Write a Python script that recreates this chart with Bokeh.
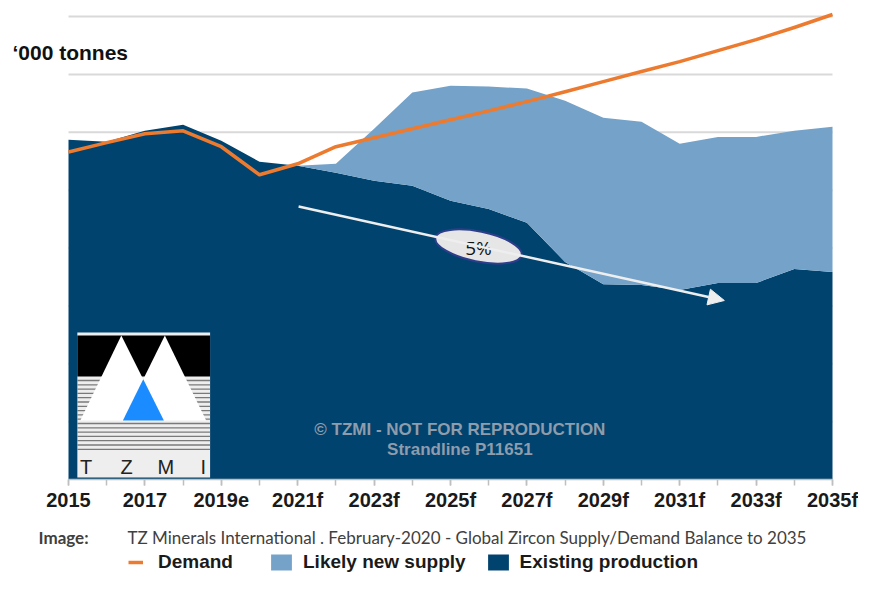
from bokeh.plotting import figure
from bokeh.models import (Range1d, FixedTicker, Label, Legend, LegendItem, Arrow,
                          NormalHead, ColumnDataSource, Grid)
from bokeh.core.properties import value
from bokeh.embed import file_html
from bokeh.resources import INLINE

# ---------------- data ('000 tonnes) ----------------
years = [2015, 2016, 2017, 2018, 2019, 2020, 2021, 2022, 2023, 2024, 2025,
         2026, 2027, 2028, 2029, 2030, 2031, 2032, 2033, 2034, 2035]
existing_production = [1174, 1167, 1205, 1226, 1171, 1098, 1084, 1060, 1032, 1015, 963,
                       935, 887, 752, 675, 672, 655, 679, 679, 727, 717]
likely_new_supply = [0, 0, 0, 0, 0, 0, 0, 31, 180, 322, 398,
                     423, 464, 557, 575, 564, 505, 505, 505, 478, 502]
demand = [1132, 1164, 1195, 1205, 1150, 1053, 1091, 1150, 1181, 1212, 1243,
          1274, 1306, 1340, 1375, 1410, 1444, 1482, 1520, 1562, 1607]
grid_values = [200, 400, 600, 800, 1000, 1200, 1400, 1600]
tick_years = [2015, 2017, 2019, 2021, 2023, 2025, 2027, 2029, 2031, 2033, 2035]
tick_labels = ["2015", "2017", "2019e", "2021f", "2023f", "2025f", "2027f",
               "2029f", "2031f", "2033f", "2035f"]
trend_label = "5%"

DARK = "#00436e"
LIGHT = "#74a2c9"
ORANGE = "#ec7b2f"

W, H = 858, 574
X0_PX, X35_PX = 68, 832          # where 2015 / 2035 sit on the canvas
Y0_PX, Y1600_PX = 479, 16        # where 0 / 1600 sit on the canvas
PX_PER_YEAR = (X35_PX - X0_PX) / 20.0
PX_PER_UNIT = (Y0_PX - Y1600_PX) / 1600.0

x_range = Range1d(2015 - X0_PX / PX_PER_YEAR, 2015 + (W - X0_PX) / PX_PER_YEAR)
y_range = Range1d(-(H - Y0_PX) / PX_PER_UNIT, Y0_PX / PX_PER_UNIT)

p = figure(width=W, height=H, output_backend="svg", toolbar_location=None,
           x_range=x_range, y_range=y_range, y_axis_location=None,
           min_border=0, min_border_left=0, min_border_right=0,
           min_border_top=0, min_border_bottom=0)
p.outline_line_color = None
p.background_fill_color = "white"
p.border_fill_color = "white"
for r in p.renderers + p.center:
    if isinstance(r, Grid):
        r.visible = False

# horizontal gridlines spanning the data years only
p.segment(x0=[years[0]] * len(grid_values), x1=[years[-1]] * len(grid_values),
          y0=grid_values, y1=grid_values, line_color="#d9d9d9", line_width=2)

src = ColumnDataSource(dict(year=years, existing=existing_production,
                            likely=likely_new_supply, demand=demand))
dark_r, light_r = p.varea_stack(stackers=["existing", "likely"], x="year", source=src,
                                color=[DARK, LIGHT])
line_r = p.line("year", "demand", source=src, line_color=ORANGE, line_width=3.5,
                line_join="round")

# x axis, drawn at y = 0 inside the frame
ax = p.xaxis[0]
ax.fixed_location = 0
ax.bounds = (years[0], years[-1])
ax.ticker = FixedTicker(ticks=tick_years, minor_ticks=years)
ax.major_label_overrides = {y: l for y, l in zip(tick_years, tick_labels)}
ax.axis_line_color = "#bfbfbf"
ax.axis_line_width = 1.5
ax.major_tick_line_color = "#bfbfbf"
ax.minor_tick_line_color = "#bfbfbf"
ax.major_tick_line_width = 1.5
ax.minor_tick_line_width = 1.5
ax.major_tick_out = 6
ax.minor_tick_out = 6
ax.major_tick_in = 0
ax.minor_tick_in = 0
ax.major_label_standoff = 3
ax.major_label_text_font = "Liberation Sans"
ax.major_label_text_font_style = "bold"
ax.major_label_text_font_size = "20px"
ax.major_label_text_color = "#1a1a1a"


# helpers: decoration positions measured on the reference (2015 at 68px, 38.85px/year)
def fx(px):
    return 2015 + (px - 68) / 38.85


def fy(py):
    return (Y0_PX - py) / PX_PER_UNIT


# trend arrow and ellipse
p.add_layout(Arrow(x_start=fx(302), y_start=fy(206), x_end=fx(735), y_end=fy(300),
                   line_color="#eeeeee", line_width=2.5,
                   end=NormalHead(size=16, fill_color="#eeeeee", line_color="#eeeeee")))
p.ellipse(x=[fx(485)], y=[fy(246)], width=88, height=30, angle=-0.2,
          width_units="screen", height_units="screen",
          fill_color="#e6e6e6", line_color="#2e3d8c", line_width=2)
p.text(x=[fx(485)], y=[fy(247)], text=[trend_label], text_align="center",
       text_baseline="middle", text_font=value("Open Sans"), text_font_size="19px",
       text_color="#111111")

# watermark
for txt, py in [("© TZMI - NOT FOR REPRODUCTION", 429), ("Strandline P11651", 449)]:
    p.add_layout(Label(x=fx(466), y=fy(py), text=txt, text_align="center",
                       text_baseline="middle", text_font="Liberation Sans",
                       text_font_style="bold", text_font_size="17px",
                       text_color="#8e9cab"))

# TZMI logo
p.quad(left=[fx(77)], right=[fx(212)], bottom=[fy(477)], top=[fy(332)],
       fill_color="#eeeeee", line_color=None)
p.quad(left=[fx(77)], right=[fx(212)], bottom=[fy(376)], top=[fy(335)],
       fill_color="#000000", line_color=None)
stripe_y = [380 + 4.3 * i for i in range(17)]
p.segment(x0=[fx(77)] * len(stripe_y), x1=[fx(212)] * len(stripe_y),
          y0=[fy(v) for v in stripe_y], y1=[fy(v) for v in stripe_y],
          line_color="#7a7a7a", line_width=1.3)
p.patch([fx(121.7), fx(80), fx(165)], [fy(335), fy(420), fy(420)],
        fill_color="white", line_color=None)
p.patch([fx(166), fx(123.3), fx(208)], [fy(335), fy(420), fy(420)],
        fill_color="white", line_color=None)
p.patch([fx(144), fx(123.3), fx(165)], [fy(378.8), fy(420), fy(420)],
        fill_color="#1a8cff", line_color=None)
p.text(x=[fx(86), fx(127), fx(167), fx(205)], y=[fy(466)] * 4,
       text=["T", "Z", "M", "I"], text_align="center", text_baseline="middle",
       text_font=value("Liberation Sans"), text_font_size="20px", text_color="#222222")

# y title
p.add_layout(Label(x=12, y=H - 52, x_units="screen", y_units="screen",
                   text="\u2018000 tonnes", text_baseline="middle",
                   text_font="Liberation Sans", text_font_style="bold",
                   text_font_size="21px", text_color="#111111"))

# caption
p.add_layout(Label(x=38, y=H - 537, x_units="screen", y_units="screen",
                   text="Image:", text_baseline="middle", text_font="Lato",
                   text_font_style="bold", text_font_size="17px", text_color="#404040"))
p.add_layout(Label(x=127, y=H - 537, x_units="screen", y_units="screen",
                   text="TZ Minerals International . February-2020 - Global Zircon Supply/Demand Balance to 2035",
                   text_baseline="middle", text_font="Lato", text_font_size="17px",
                   text_color="#404040"))

# legends
common = dict(orientation="horizontal", padding=0, margin=0, border_line_alpha=0,
              background_fill_alpha=0, label_text_font="Liberation Sans",
              label_text_font_style="bold", label_text_font_size="19px",
              label_text_color="#1a1a1a", label_height=20, glyph_height=20)
leg1 = Legend(items=[LegendItem(label="Demand", renderers=[line_r])],
              location=(128, 1), glyph_width=15, label_standoff=15, **common)
leg2 = Legend(items=[LegendItem(label="Likely new supply", renderers=[light_r]),
                     LegendItem(label="Existing production", renderers=[dark_r])],
              location=(268, 1), glyph_width=26, label_standoff=9,
              spacing=19, **common)
p.add_layout(leg1)
p.add_layout(leg2)

open("out.html", "w").write(file_html(p, INLINE))
